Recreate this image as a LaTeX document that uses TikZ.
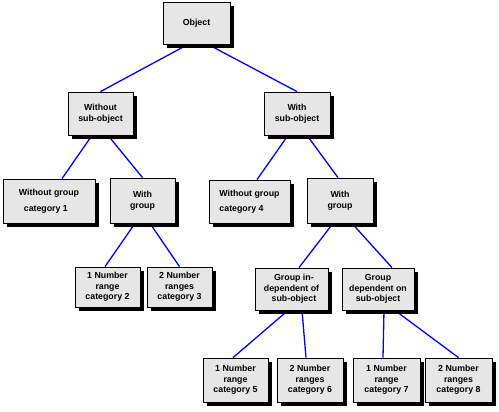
\documentclass[tikz,border=0pt]{standalone}
\usepackage{fontspec}
\setmainfont{Liberation Sans}
\usetikzlibrary{shadows,backgrounds}
\definecolor{boxgray}{HTML}{E6E6E6}
\definecolor{linkblue}{HTML}{0000FF}

\begin{document}
\begin{tikzpicture}[x=1pt,y=-1pt,
  box/.style={draw=black,line width=0.8pt,fill=boxgray,inner sep=1pt,
    font=\fontsize{8.8}{10.5}\selectfont\bfseries,align=center,
    drop shadow={shadow xshift=4pt,shadow yshift=-4pt,fill=black,opacity=1}},
  link/.style={linkblue,line width=1.3pt}]
  \useasboundingbox (0,0) rectangle (499,412);
  % top level
  \node[box,minimum width=67pt,minimum height=42pt] (obj) at (196.5,23) {Object};
  \node[box,minimum width=65pt,minimum height=43pt] (wos) at (100.5,113.5) {Without\\sub-object};
  \node[box,minimum width=66pt,minimum height=43pt] (ws) at (297,113.5) {With\\sub-object};
  % third row
  \node[box,minimum width=92pt,minimum height=44pt,align=left] (cat1) at (49,201) {Without group\\[5pt]\ \ category 1};
  \node[box,minimum width=65pt,minimum height=45pt] (wg1) at (142.5,200.5) {With\\group};
  \node[box,minimum width=81pt,minimum height=43pt,align=left] (cat4) at (249.5,201.5) {Without group\\[5pt]category 4};
  \node[box,minimum width=66pt,minimum height=45pt] (wg2) at (340,200.5) {With\\group};
  % fourth row
  \node[box,minimum width=65pt,minimum height=40pt] (cat2) at (107.5,287) {1 Number\\range\\category 2};
  \node[box,minimum width=65pt,minimum height=40pt] (cat3) at (179.5,287) {2 Number\\ranges\\category 3};
  \node[box,minimum width=73pt,minimum height=42pt] (gind) at (291.5,289) {\ \ Group in-\\dependent of\\\ \ sub-object};
  \node[box,minimum width=72pt,minimum height=42pt] (gdep) at (378,289) {Group\\dependent on\\sub-object};
  % bottom row
  \node[box,minimum width=65pt,minimum height=44pt] (cat5) at (235.5,380) {1 Number\\range\\category 5};
  \node[box,minimum width=66pt,minimum height=44pt] (cat6) at (310,380) {2 Number\\ranges\\category 6};
  \node[box,minimum width=67pt,minimum height=44pt] (cat7) at (386.5,380) {1 Number\\range\\category 7};
  \node[box,minimum width=67pt,minimum height=44pt] (cat8) at (458.5,380) {2 Number\\ranges\\category 8};

  % links go behind the boxes and shadows
  \begin{pgfonlayer}{background}
  \draw[link] ([xshift=-8.5pt]obj.south) -- (wos.north);
  \draw[link] ([xshift=11.5pt]obj.south) -- (ws.north);
  \draw[link] ([xshift=-8.5pt]wos.south) -- ([xshift=13pt]cat1.north);
  \draw[link] ([xshift=7.5pt]wos.south) -- (wg1.north);
  \draw[link] ([xshift=-9pt]ws.south) -- ([xshift=7.5pt]cat4.north);
  \draw[link] ([xshift=10pt]ws.south) -- ([xshift=-2pt]wg2.north);
  \draw[link] ([xshift=-7.5pt]wg1.south) -- ([xshift=-2.5pt]cat2.north);
  \draw[link] ([xshift=7.5pt]wg1.south) -- (cat3.north);
  \draw[link] ([xshift=-7pt]wg2.south) -- ([xshift=7.5pt]gind.north);
  \draw[link] ([xshift=12pt]wg2.south) -- ([xshift=14pt]gdep.north);
  \draw[link] ([xshift=-3.5pt]gind.south) -- ([xshift=-2.5pt]cat5.north);
  \draw[link] ([xshift=10.5pt]gind.south) -- ([xshift=-4pt]cat6.north);
  \draw[link] ([xshift=6pt]gdep.south) -- ([xshift=-3.5pt]cat7.north);
  \draw[link] ([xshift=17pt]gdep.south) -- (cat8.north);
  \end{pgfonlayer}
\end{tikzpicture}
\end{document}
